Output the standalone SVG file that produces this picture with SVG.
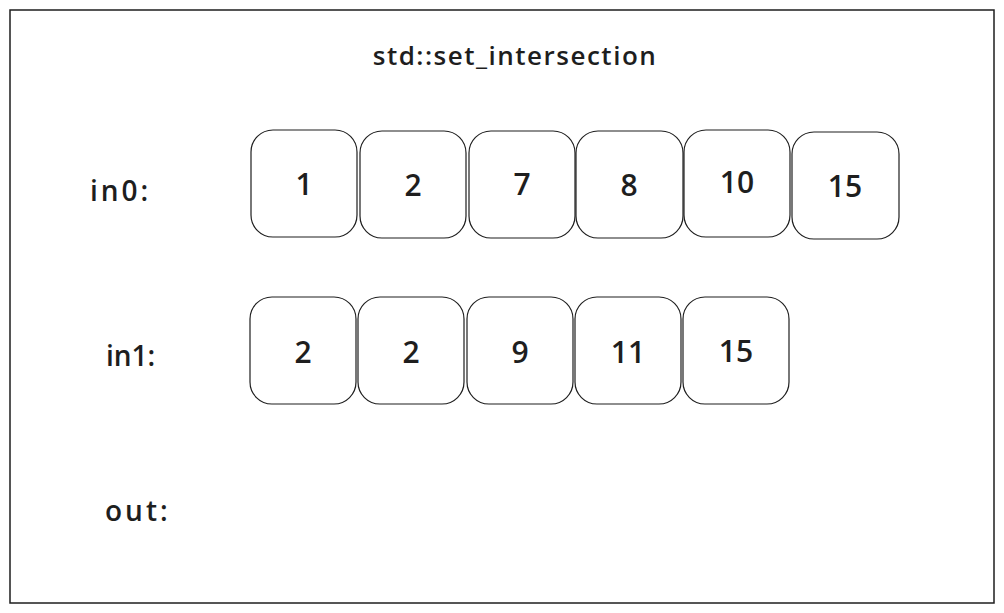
<svg xmlns="http://www.w3.org/2000/svg" width="1004" height="613" viewBox="0 0 1004 613">
<style>
.box{fill:#fff;stroke:#1e1e1e;stroke-width:1.2}
.num{font-family:"Open Sans","Liberation Sans",sans-serif;font-size:30px;font-weight:600;fill:#1e1e1e;text-anchor:middle;dominant-baseline:central}
.lbl{font-family:"Open Sans","Liberation Sans",sans-serif;font-size:28px;font-weight:600;letter-spacing:3px;fill:#1e1e1e;dominant-baseline:central}
</style>
<rect width="1004" height="613" fill="#fff"/>
<g id="frame"><rect x="10" y="10" width="984" height="593" fill="#fff" stroke="#1e1e1e" stroke-width="1.5"/></g>
<g id="title"><text x="515" y="55" font-family="Open Sans, Liberation Sans, sans-serif" font-size="26" font-weight="600" letter-spacing="1.5" fill="#1e1e1e" text-anchor="middle" dominant-baseline="central">std::set_intersection</text></g>
<g id="label-in0"><text class="lbl" x="90" y="190" letter-spacing="4">in0:</text></g>
<g id="label-in1"><text class="lbl" x="106" y="355" style="letter-spacing:0">in1:</text></g>
<g id="label-out"><text class="lbl" x="105" y="510">out:</text></g>
<g id="in0-0"><rect class="box" x="251" y="130" width="106" height="107" rx="22"/><text class="num" x="304" y="183">1</text></g>
<g id="in0-1"><rect class="box" x="360" y="131" width="106" height="107" rx="22"/><text class="num" x="413" y="184">2</text></g>
<g id="in0-2"><rect class="box" x="469" y="131" width="106" height="107" rx="22"/><text class="num" x="522" y="183">7</text></g>
<g id="in0-3"><rect class="box" x="576" y="131" width="107" height="107" rx="22"/><text class="num" x="629" y="184">8</text></g>
<g id="in0-4"><rect class="box" x="684" y="130" width="106" height="107" rx="22"/><text class="num" x="737" y="181">10</text></g>
<g id="in0-5"><rect class="box" x="792" y="132" width="107" height="107" rx="22"/><text class="num" x="845" y="185">15</text></g>
<g id="in1-0"><rect class="box" x="250" y="297" width="106" height="107" rx="22"/><text class="num" x="303" y="351">2</text></g>
<g id="in1-1"><rect class="box" x="358" y="297" width="106" height="107" rx="22"/><text class="num" x="411" y="351">2</text></g>
<g id="in1-2"><rect class="box" x="467" y="297" width="106" height="107" rx="22"/><text class="num" x="520" y="351">9</text></g>
<g id="in1-3"><rect class="box" x="575" y="297" width="106" height="107" rx="22"/><text class="num" x="628" y="351">11</text></g>
<g id="in1-4"><rect class="box" x="683" y="297" width="106" height="107" rx="22"/><text class="num" x="736" y="350">15</text></g>
<g id="connectors"></g>
</svg>
